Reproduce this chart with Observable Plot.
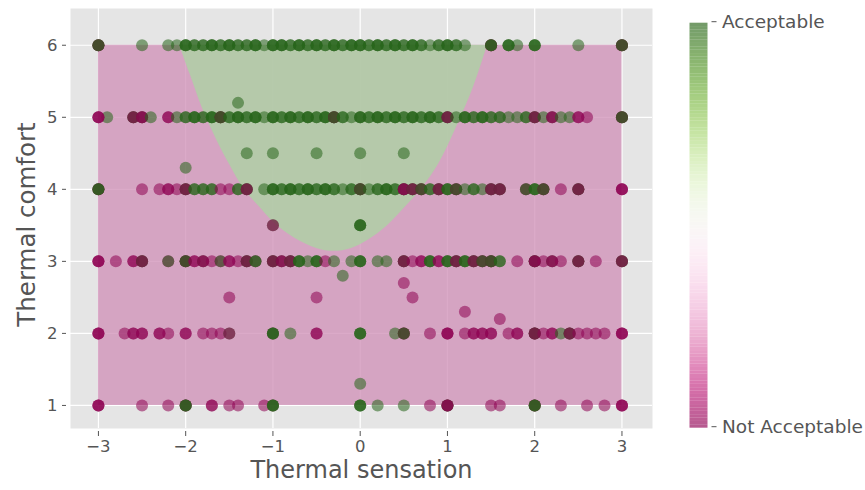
<!DOCTYPE html>
<html><head><meta charset="utf-8">
<script src="https://cdn.jsdelivr.net/npm/d3@7"></script>
<script src="https://cdn.jsdelivr.net/npm/@observablehq/plot@0.6"></script>
<style>
html,body{margin:0;padding:0;background:#fff;}
#wrap{display:flex;width:865px;height:490px;font-family:"DejaVu Sans";}
svg{display:block}
</style></head><body><div id="wrap"></div>
<script>
// ---- data ----
const xTicks = [-3, -2, -1, 0, 1, 2, 3];
const yTicks = [1, 2, 3, 4, 5, 6];
const regionX = [-3, 3];
const regionY = [1, 6];
const colorLabels = ["Not Acceptable", "Acceptable"];
const colorTicks = [0, 1];

// lower edge of the "acceptable" (green) zone
const boundaryX = [-2.07, -1.95, -1.8, -1.65, -1.5, -1.33, -1.15, -1.0, -0.75, -0.5, -0.3, -0.1, 0.1, 0.3, 0.5, 0.7, 0.9, 1.1, 1.3, 1.46];
const boundaryY = [6.0, 5.6, 5.1, 4.7, 4.35, 4.0, 3.75, 3.55, 3.32, 3.18, 3.14, 3.18, 3.3, 3.48, 3.73, 4.0, 4.35, 4.85, 5.42, 6.0];

// rows: [thermal sensation, votes at that spot: g = acceptable, m = not acceptable]
const row6 = [[-3.0,"mggmg"],[-2.5,"g"],[-2.2,"g"],[-2.1,"g"],[-2.0,"ggg"],[-1.9,"gg"],[-1.8,"gg"],[-1.7,"ggg"],[-1.6,"gg"],[-1.5,"ggg"],[-1.4,"gg"],[-1.3,"gg"],[-1.2,"ggg"],[-1.1,"g"],[-1.0,"ggg"],[-0.9,"ggg"],[-0.8,"gg"],[-0.7,"ggg"],[-0.6,"gg"],[-0.5,"ggg"],[-0.4,"gg"],[-0.3,"ggg"],[-0.2,"gg"],[-0.1,"ggg"],[0.0,"ggg"],[0.1,"gg"],[0.2,"ggg"],[0.3,"gg"],[0.4,"ggg"],[0.5,"gg"],[0.6,"ggg"],[0.7,"gg"],[0.8,"g"],[0.9,"gg"],[1.0,"ggg"],[1.1,"gg"],[1.2,"g"],[1.5,"mgmgg"],[1.7,"ggg"],[1.8,"g"],[2.0,"ggg"],[2.5,"g"],[3.0,"mggmg"]];
const row5 = [[-2.9,"g"],[-3.0,"mmm"],[-2.6,"gmgm"],[-2.5,"mgmm"],[-2.4,"g"],[-2.2,"mm"],[-2.1,"g"],[-2.0,"gg"],[-1.9,"ggg"],[-1.8,"gg"],[-1.7,"ggg"],[-1.6,"mggmg"],[-1.5,"gg"],[-1.4,"ggg"],[-1.3,"gg"],[-1.2,"ggg"],[-1.1,"g"],[-1.0,"ggg"],[-0.9,"gg"],[-0.8,"ggg"],[-0.7,"gg"],[-0.6,"ggg"],[-0.5,"gg"],[-0.4,"ggg"],[-0.3,"mggmg"],[-0.2,"gg"],[-0.1,"g"],[0.0,"ggg"],[0.1,"gg"],[0.2,"ggg"],[0.3,"gg"],[0.4,"ggg"],[0.5,"gg"],[0.6,"ggg"],[0.7,"gg"],[0.8,"ggg"],[0.9,"gg"],[1.0,"gmgm"],[1.1,"g"],[1.2,"ggg"],[1.3,"gg"],[1.4,"ggg"],[1.5,"gg"],[1.6,"gg"],[1.7,"g"],[1.8,"g"],[1.9,"gg"],[2.0,"gmgm"],[2.1,"g"],[2.2,"gmm"],[2.3,"g"],[2.4,"g"],[2.5,"mm"],[2.6,"m"],[3.0,"mggmg"]];
const row4 = [[-3.0,"mgmgg"],[-2.5,"m"],[-2.3,"m"],[-2.2,"mm"],[-2.1,"m"],[-2.0,"gmgm"],[-1.9,"gg"],[-1.8,"gg"],[-1.7,"gg"],[-1.6,"m"],[-1.5,"m"],[-1.4,"gg"],[-1.3,"gmgm"],[-1.1,"g"],[-1.0,"ggg"],[-0.9,"gg"],[-0.8,"ggg"],[-0.7,"gg"],[-0.6,"ggg"],[-0.5,"gg"],[-0.4,"ggg"],[-0.3,"gg"],[-0.2,"g"],[-0.1,"gg"],[0.0,"mggmg"],[0.1,"g"],[0.2,"gg"],[0.3,"ggg"],[0.4,"gg"],[0.5,"gmgmm"],[0.6,"gmgm"],[0.7,"mgmg"],[0.8,"gg"],[0.9,"gmgm"],[1.0,"ggg"],[1.1,"mgmg"],[1.2,"g"],[1.3,"gg"],[1.4,"g"],[1.5,"gmgm"],[1.6,"gmgm"],[1.9,"gmg"],[2.0,"ggg"],[2.1,"mgmg"],[2.3,"m"],[2.5,"gmgm"],[3.0,"mmm"]];
const row3 = [[-3.0,"mmm"],[-2.8,"m"],[-2.6,"mm"],[-2.5,"gmgm"],[-2.2,"mg"],[-2.0,"mggmg"],[-1.9,"mm"],[-1.8,"gmm"],[-1.7,"m"],[-1.6,"mg"],[-1.5,"mm"],[-1.4,"m"],[-1.3,"gmgm"],[-1.2,"mgg"],[-1.0,"gmgm"],[-0.9,"gmm"],[-0.8,"gmgm"],[-0.7,"ggg"],[-0.6,"g"],[-0.5,"ggg"],[-0.4,"m"],[-0.3,"g"],[-0.1,"g"],[0.0,"ggg"],[0.2,"g"],[0.3,"g"],[0.5,"gmgm"],[0.6,"m"],[0.7,"mm"],[0.8,"ggg"],[0.9,"mm"],[1.0,"ggg"],[1.1,"gmgm"],[1.2,"ggg"],[1.3,"gmgm"],[1.4,"mgmg"],[1.5,"mggmg"],[1.6,"gg"],[1.8,"m"],[2.0,"gmgmm"],[2.1,"m"],[2.2,"gmm"],[2.3,"m"],[2.5,"gmgm"],[2.7,"m"],[3.0,"gmgm"]];
const row2 = [[-3.0,"mmm"],[-2.7,"m"],[-2.6,"mm"],[-2.5,"mm"],[-2.3,"mm"],[-2.2,"m"],[-2.0,"mm"],[-1.8,"m"],[-1.7,"m"],[-1.6,"m"],[-1.5,"gm"],[-1.0,"mggg"],[-0.8,"g"],[-0.5,"mm"],[0.0,"ggg"],[0.4,"g"],[0.5,"mgmg"],[0.8,"m"],[1.0,"mmm"],[1.2,"m"],[1.3,"mm"],[1.4,"mm"],[1.5,"mm"],[1.7,"m"],[1.8,"mm"],[2.0,"mgmgm"],[2.1,"m"],[2.2,"mm"],[2.3,"g"],[2.4,"gmgm"],[2.5,"m"],[2.6,"m"],[2.7,"m"],[2.8,"m"],[3.0,"mmm"]];
const row1 = [[-3.0,"mmm"],[-2.5,"m"],[-2.2,"m"],[-2.0,"mgmgg"],[-1.7,"mm"],[-1.5,"m"],[-1.4,"m"],[-1.1,"m"],[-1.0,"mggg"],[0.0,"ggg"],[0.2,"g"],[0.5,"g"],[0.8,"m"],[1.0,"gmgmm"],[1.5,"m"],[1.6,"m"],[2.0,"mgmgg"],[2.3,"m"],[2.6,"m"],[2.8,"m"],[3.0,"mmm"]];
const offRow = [[-1.4,5.2,"g"],[-1.3,4.5,"g"],[-1.0,4.5,"g"],[-0.5,4.5,"g"],[0.0,4.5,"g"],[0.5,4.5,"g"],[-2.0,4.3,"g"],[-1.0,3.5,"gm"],[0.0,3.5,"ggg"],[-0.2,2.8,"g"],[-1.5,2.5,"m"],[-0.5,2.5,"m"],[0.5,2.7,"m"],[0.6,2.5,"m"],[1.2,2.3,"m"],[1.6,2.2,"m"],[0.0,1.3,"g"]];

// ---- build tables ----
const rows = [[6, row6], [5, row5], [4, row4], [3, row3], [2, row2], [1, row1]];
const points = [];
for (const [y, row] of rows) for (const [x, code] of row) for (const ch of code) points.push({x, y, v: ch === "g" ? 1 : 0});
for (const [x, y, code] of offRow) for (const ch of code) points.push({x, y, v: ch === "g" ? 1 : 0});
const boundary = boundaryX.map((x, i) => ({x, y: boundaryY[i]}));

const FONT = "DejaVu Sans";
const GREY = "#555555";

const main = Plot.plot({
  width: 680, height: 490,
  marginLeft: 70, marginRight: 28, marginTop: 8, marginBottom: 62,
  style: {fontFamily: FONT, background: "transparent", overflow: "visible"},
  x: {domain: [-3.32, 3.35]},
  y: {domain: [0.68, 6.51]},
  color: {type: "linear", scheme: "PiYG", domain: [0, 1]},
  marks: [
    Plot.frame({fill: "#e5e5e5", stroke: null}),
    Plot.gridX(xTicks, {stroke: "white", strokeOpacity: 1, strokeWidth: 1.2}),
    Plot.gridY(yTicks, {stroke: "white", strokeOpacity: 1, strokeWidth: 1.2}),
    Plot.rect([regionX], {x1: d => d[0], x2: d => d[1], y1: () => regionY[0], y2: () => regionY[1], fill: "#cf8db6", fillOpacity: 0.75}),
    Plot.areaY(boundary, {x: "x", y1: "y", y2: () => regionY[1], curve: "catmull-rom", fill: "#add2a4", fillOpacity: 0.8}),
    Plot.dot(points, {x: "x", y: "y", r: 6, fill: "v", fillOpacity: 0.55}),
    Plot.axisX(xTicks, {tickSize: 5, tickPadding: 4, dy: 3, fontSize: 16.5, fill: GREY, stroke: GREY, label: null, tickFormat: d3.format("d")}),
    Plot.axisY(yTicks, {tickSize: 4, tickPadding: 5, dx: -4, fontSize: 16.5, fill: GREY, stroke: GREY, label: null, tickFormat: d3.format("d")}),
    Plot.text(["Thermal sensation"], {text: d => d, frameAnchor: "bottom", dy: 42, fontSize: 24, fill: GREY, lineAnchor: "middle", textAnchor: "middle"}),
    Plot.text(["Thermal comfort"], {text: d => d, frameAnchor: "left", rotate: -90, dx: -43, dy: 6, fontSize: 24.5, fill: GREY, lineAnchor: "middle", textAnchor: "middle"})
  ]
});

// colour bar
const nStops = 120;
const stops = d3.range(nStops).map(i => i / nStops);
const cbar = Plot.plot({
  width: 185, height: 490,
  marginLeft: 9.5, marginRight: 157.5, marginTop: 22.7, marginBottom: 62.3,
  style: {fontFamily: FONT, background: "transparent", overflow: "visible"},
  x: {domain: [0, 1], axis: null},
  y: {domain: [0, 1]},
  color: {type: "linear", scheme: "PiYG", domain: [0, 1]},
  marks: [
    Plot.rect(stops, {x1: () => 0, x2: () => 1, y1: d => d, y2: d => d + 1 / nStops, fill: d => d + 0.5 / nStops, fillOpacity: 0.65}),
    Plot.axisY(colorTicks, {anchor: "right", dx: 3, dy: -1.5, tickSize: 5, tickPadding: 6, fontSize: 18.5, fill: GREY, stroke: GREY, label: null, tickFormat: d => colorLabels[d]})
  ]
});

const wrap = document.getElementById("wrap");
wrap.appendChild(main);
wrap.appendChild(cbar);
</script></body></html>
